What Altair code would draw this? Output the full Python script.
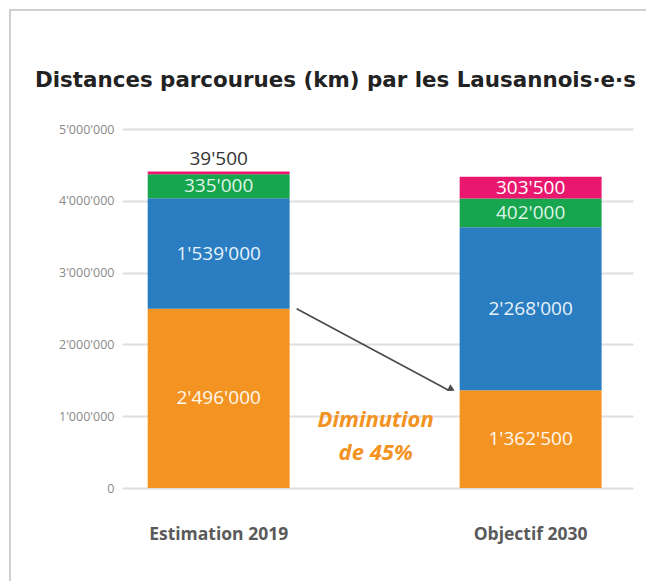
import altair as alt
import pandas as pd

title_text = ["Distances parcourues (km) par les Lausannois·e·s"]
categories = ["Estimation 2019", "Objectif 2030"]
segments = ["orange", "bleu", "vert", "rose"]
seg_colors = ["#F39322", "#2A7DC1", "#17A54E", "#E9176E"]
label_colors = ["#fff8ee", "#e6f2fb", "#dff5e6", "#ffffff"]
values_2019 = [2496000, 1539000, 335000, 39500]
values_2030 = [1362500, 2268000, 402000, 303500]
y_ticks = [0, 500000, 1000000, 1500000, 2000000, 2500000, 3000000, 3500000, 4000000, 4500000, 5000000]
annotation_lines = ["Diminution", "de 45%"]
annotation_y = [950000]
arrow_from = [categories[0], values_2019[0]]
arrow_to = [categories[1], values_2030[0]]


def fmt(v):
    return f"{v:,}".replace(",", "'")


rows = []
for cat, vals in zip(categories, [values_2019, values_2030]):
    lo = 0
    for i, (seg, v) in enumerate(zip(segments, vals)):
        hi = lo + v
        inside = v > 150000
        rows.append({
            "cat": cat, "seg": seg, "rank": i, "value": v, "lo": lo, "hi": hi,
            "mid": (lo + hi) / 2, "label": fmt(v), "inside": inside,
            "tcol": label_colors[i],
        })
        lo = hi
df = pd.DataFrame(rows)

FONT = "Open Sans"

xscale = alt.Scale(domain=categories, paddingInner=0.545, paddingOuter=0.0915, align=0.45)
yscale = alt.Scale(domain=[0, 5000000], nice=False)

base = alt.Chart(df)

bars = base.mark_bar().encode(
    x=alt.X("cat:N", scale=xscale, sort=categories,
            axis=alt.Axis(title=None, labelAngle=0, domain=False, ticks=False,
                          labelPadding=37, labelFontSize=17.5, labelFontWeight="bold",
                          labelColor="#5a5a5a", labelFont=FONT, grid=False)),
    y=alt.Y("lo:Q", scale=yscale,
            axis=alt.Axis(title=None, values=y_ticks, domain=False, ticks=False,
                          labelPadding=8, labelFontSize=12.5, labelColor="#8a8a8a",
                          labelFont=FONT, gridColor="#dedede", gridWidth=2,
                          labelExpr="datum.value % 1000000 == 0 ? (datum.value == 0 ? '0' : format(datum.value / 1000000, 'd') + \"'000'000\") : ''")),
    y2="hi:Q",
    color=alt.Color("seg:N", scale=alt.Scale(domain=segments, range=seg_colors), legend=None),
)

inside_labels = base.transform_filter("datum.inside").mark_text(
    font=FONT, fontSize=19, baseline="middle", align="center"
).encode(
    x=alt.X("cat:N", scale=xscale, sort=categories),
    y=alt.Y("mid:Q", scale=yscale),
    text="label:N",
    color=alt.Color("tcol:N", scale=None),
)

outside_labels = base.transform_filter("!datum.inside").mark_text(
    font=FONT, fontSize=19, baseline="middle", align="center", dy=-12, color="#333333"
).encode(
    x=alt.X("cat:N", scale=xscale, sort=categories),
    y=alt.Y("hi:Q", scale=yscale),
    text="label:N",
)

arrow_df = pd.DataFrame({"c1": [arrow_from[0]], "c2": [arrow_to[0]],
                         "v1": [arrow_from[1]], "v2": [arrow_to[1]]})
arrow_line = alt.Chart(arrow_df).mark_rule(
    color="#4a4a4a", strokeWidth=1.6, xOffset=78, x2Offset=-82
).encode(
    x=alt.X("c1:N", scale=xscale, sort=categories),
    x2="c2:N",
    y=alt.Y("v1:Q", scale=yscale),
    y2="v2:Q",
)
arrow_head = alt.Chart(arrow_df).mark_point(
    shape="triangle-right", angle=27, filled=True, size=60, color="#4a4a4a",
    opacity=1, xOffset=-79, yOffset=-1
).encode(
    x=alt.X("c2:N", scale=xscale, sort=categories),
    y=alt.Y("v2:Q", scale=yscale),
)

ann_df = pd.DataFrame({"c": [categories[0]], "v": annotation_y, "t": [annotation_lines]})
annotation = alt.Chart(ann_df).mark_text(
    font=FONT, fontSize=22, fontWeight="bold", fontStyle="italic", color="#F39322",
    align="center", baseline="middle", lineHeight=33, dx=157
).encode(
    x=alt.X("c:N", scale=xscale, sort=categories),
    y=alt.Y("v:Q", scale=yscale),
    text="t",
)

title = alt.Chart(pd.DataFrame({"t": title_text})).mark_text(
    font="DejaVu Sans", fontSize=21.4, fontWeight="bold", color="#222222",
    align="left", baseline="alphabetic"
).encode(
    x=alt.value(-87), y=alt.value(-42), text="t:N"
)

frame = alt.Chart(pd.DataFrame({"a": [0]})).mark_rect(
    fill="transparent", stroke="#cfcfcf", strokeWidth=2
).encode(
    x=alt.value(-112), x2=alt.value(700), y=alt.value(-119), y2=alt.value(700)
)

chart = alt.layer(frame, bars, inside_labels, outside_labels, arrow_line, arrow_head,
                  annotation, title).properties(
    width=511, height=359,
    padding={"left": 122, "top": 129, "right": 13, "bottom": 93},
    autosize=alt.AutoSizeParams(type="none"),
    background="white",
).configure_view(stroke=None)

chart.save("out.html", embed_options={"renderer": "svg", "actions": False})
